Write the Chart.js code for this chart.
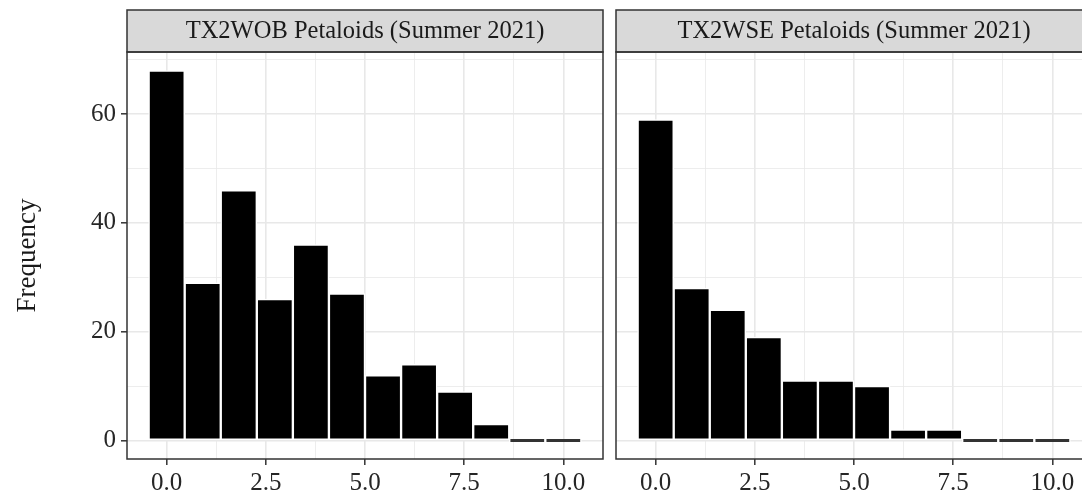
<!DOCTYPE html>
<html><head><meta charset="utf-8">
<script src="https://cdn.jsdelivr.net/npm/chart.js@4.4.1/dist/chart.umd.min.js"></script>
<style>
html,body{margin:0;padding:0;background:#fff;overflow:hidden;width:1082px;height:495px;position:relative;}
#wrapL{position:absolute;left:0;top:0;width:610px;height:495px;}
#wrapR{position:absolute;left:608px;top:0;width:485px;height:495px;}
</style></head><body>
<div id="wrapL"><canvas id="cL"></canvas></div>
<div id="wrapR"><canvas id="cR"></canvas></div>
<script>
const binCenters = [0, 0.909, 1.818, 2.727, 3.636, 4.545, 5.455, 6.364, 7.273, 8.182, 9.091, 10];
const wobCounts = [68, 29, 46, 26, 36, 27, 12, 14, 9, 3, 0, 0];
const wseCounts = [59, 28, 24, 19, 11, 11, 10, 2, 2, 0, 0, 0];
const panelTitles = ['TX2WOB Petaloids (Summer 2021)', 'TX2WSE Petaloids (Summer 2021)'];
const xTickValues = [0, 2.5, 5, 7.5, 10];
const yTickValues = [0, 20, 40, 60];
const yTitle = 'Frequency';

const FONT = '"Liberation Serif", "Times New Roman", serif';

const panelPlugin = {
  id: 'panel',
  afterDraw(chart, args, opts) {
    const {ctx, chartArea: a} = chart;
    ctx.save();
    ctx.fillStyle = '#D9D9D9';
    ctx.fillRect(a.left, 10, a.right - a.left, a.top - 10);
    ctx.strokeStyle = '#333333';
    ctx.lineWidth = 1.5;
    ctx.strokeRect(a.left, 10, a.right - a.left, a.top - 10);
    ctx.strokeRect(a.left, a.top, a.right - a.left, a.bottom - a.top);
    ctx.fillStyle = '#1A1A1A';
    ctx.font = '24.5px ' + FONT;
    ctx.textAlign = 'center';
    ctx.textBaseline = 'middle';
    ctx.fillText(opts.title, (a.left + a.right) / 2, 32);
    ctx.restore();
  }
};

function makeChart(id, counts, title, showY) {
  return new Chart(document.getElementById(id), {
    type: 'bar',
    data: {
      datasets: [{
        data: binCenters.map((x, i) => ({x: x, y: counts[i]})),
        backgroundColor: ctx => (ctx.raw && ctx.raw.y === 0) ? '#333333' : '#000000',
        borderColor: '#ffffff',
        borderWidth: ctx => (ctx.raw && ctx.raw.y === 0) ? {left: 1.5, right: 1.5, top: 0, bottom: 0} : 1.5,
        borderSkipped: false,
        minBarLength: 3,
        barPercentage: 1,
        categoryPercentage: 1
      }]
    },
    options: {
      responsive: true,
      maintainAspectRatio: false,
      animation: false,
      layout: {padding: {top: 52, right: showY ? 7 : 1, left: 0, bottom: 0}},
      plugins: {
        legend: {display: false},
        tooltip: {enabled: false},
        panel: {title: title}
      },
      scales: {
        x: {
          type: 'linear', min: -1, max: 11, offset: false,
          grid: {
            offset: false,
            color: '#E8E8E8',
            lineWidth: ctx => xTickValues.includes(ctx.tick.value) ? 1.6 : 0.8,
            drawTicks: true,
            tickLength: 6,
            tickWidth: 1.5,
            tickColor: ctx => xTickValues.includes(ctx.tick.value) ? '#333333' : 'rgba(0,0,0,0)'
          },
          border: {display: false},
          ticks: {
            stepSize: 1.25, includeBounds: false, autoSkip: false, maxRotation: 0, minRotation: 0,
            padding: 3, color: '#262626',
            font: {family: FONT, size: 25},
            callback: v => xTickValues.includes(v) ? v.toFixed(1) : ''
          },
          afterFit: s => { s.height = 36; }
        },
        y: {
          type: 'linear', min: -3.4, max: 71.4,
          grid: {
            color: '#E8E8E8',
            lineWidth: ctx => yTickValues.includes(ctx.tick.value) ? 1.6 : 0.8,
            drawTicks: showY,
            tickLength: 6,
            tickWidth: 1.5,
            tickColor: ctx => yTickValues.includes(ctx.tick.value) ? '#333333' : 'rgba(0,0,0,0)'
          },
          border: {display: false},
          ticks: {
            display: showY,
            stepSize: 10, includeBounds: false, autoSkip: false,
            padding: 5, color: '#262626',
            font: {family: FONT, size: 25},
            callback: v => yTickValues.includes(v) ? String(v) : ''
          },
          title: {
            display: showY, text: yTitle, color: '#1A1A1A',
            font: {family: FONT, size: 27},
            padding: {top: 12, bottom: 0}
          },
          afterFit: s => { s.width = showY ? 127 : 8; }
        }
      }
    },
    plugins: [panelPlugin]
  });
}

makeChart('cL', wobCounts, panelTitles[0], true);
makeChart('cR', wseCounts, panelTitles[1], false);
</script>
</body></html>
